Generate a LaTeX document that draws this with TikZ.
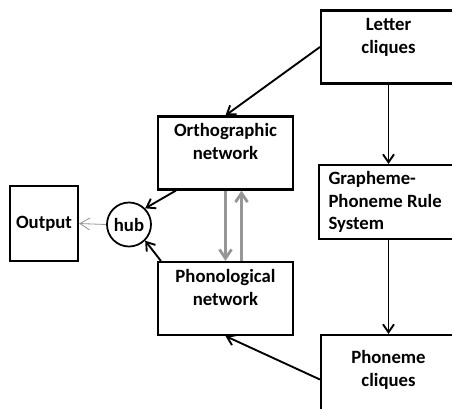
\documentclass[tikz,border=0pt]{standalone}
\usepackage{fontspec}
\setmainfont{Carlito}
\usepackage{xcolor}
\usetikzlibrary{arrows.meta,positioning}
\definecolor{linkgray}{RGB}{150,150,150}

\begin{document}
\begin{tikzpicture}[
  x=0.03cm, y=-0.03cm,
  font=\fontsize{16}{19.5}\selectfont\bfseries,
  box/.style={draw, line width=1.8pt, minimum width=4.05cm, minimum height=2.19cm,
              align=center, inner sep=0pt},
  rulebox/.style={draw, line width=1.8pt, minimum width=4.05cm, minimum height=2.22cm,
              text width=3.6cm, align=flush left, inner xsep=0.28cm, inner ysep=0pt},
  hubnode/.style={draw, circle, line width=1.5pt, minimum size=1.32cm, inner sep=0pt},
  ar/.style={-{Straight Barb[length=0.24cm,width=0.33cm]}, line width=1.6pt},
  gr/.style={-{Straight Barb[length=0.27cm,width=0.36cm]}, linkgray, line width=2.4pt},
  th/.style={-{Straight Barb[length=0.3cm,width=0.36cm]}, linkgray, line width=0.7pt}
]
\clip (0,0) rectangle (452,408);

% Boxes
\node[box] (letter) at (388.5,47) {Letter\\cliques\\~};
\node[box] (orth) at (225.5,153) {Orthographic\\network\\~};
\node[rulebox] (gpr) at (388.5,202) {Grapheme-\\Phoneme Rule\\System};
\node[box] (phon) at (225.5,298.5) {Phonological\\network\\~};
\node[box, minimum height=2.67cm] (phoneme) at (388.5,379.5) {Phoneme\\cliques\\~};
\node[box, minimum width=2.04cm, minimum height=2.25cm] (out) at (44,223.5) {Output};
\node[hubnode] (hub) at (129,224.5) {hub};

% Arrows
\draw[ar] (letter.west) -- (orth.north);
\draw[ar] (letter) -- (gpr);
\draw[ar] (gpr) -- (phoneme);
\draw[ar] (phoneme.west) -- (phon.south);
\draw[ar] ([xshift=0.57cm]orth.south west) -- (hub.north east);
\draw[ar] ([xshift=0.12cm]phon.north west) -- (hub.south east);
\draw[th] (hub.west) -- (out.east);

% Links between networks
\draw[gr] (orth.south) -- (phon.north);
\draw[gr] ([xshift=0.48cm]phon.north) -- ([xshift=0.48cm]orth.south);
\end{tikzpicture}
\end{document}
